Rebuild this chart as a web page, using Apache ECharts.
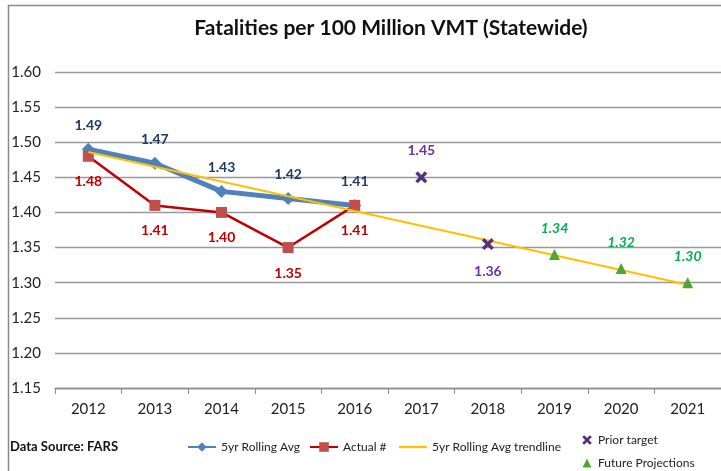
<!DOCTYPE html>
<html>
<head>
<meta charset="utf-8">
<script src="https://cdn.jsdelivr.net/npm/echarts@6/dist/echarts.min.js"></script>
<style>
  html, body { margin: 0; padding: 0; background: #fff; }
  #chart { width: 721px; height: 471px; }
</style>
</head>
<body>
<div id="chart"></div>
<script>
// chart values
var years = ["2012", "2013", "2014", "2015", "2016", "2017", "2018", "2019", "2020", "2021"];
var rollingAvg = [1.49, 1.47, 1.43, 1.42, 1.41, null, null, null, null, null];
var actual = [1.48, 1.41, 1.40, 1.35, 1.41, null, null, null, null, null];
var trendline = [1.486, null, null, null, null, null, null, null, null, 1.297];
var priorTarget = [null, null, null, null, null, 1.45, 1.355, null, null, null];
var priorLabels = ["", "", "", "", "", "1.45", "1.36", "", "", ""];
var priorLabelPos = ["", "", "", "", "", "top", "bottom", "", "", ""];
var projections = [null, null, null, null, null, null, null, 1.34, 1.32, 1.30];

var FONT = "Lato";
var X_PATH = "path://M2,0 L5,3 L8,0 L10,2 L7,5 L10,8 L8,10 L5,7 L2,10 L0,8 L3,5 L0,2 Z";
var LINE_ICON = "path://M0,0 L30,0 L30,2.5 L0,2.5 Z";

var chart = echarts.init(document.getElementById("chart"));

function legendAt(name, left, top, extra) {
    var lg = {
        data: [name],
        left: left, top: top,
        itemWidth: 28, itemHeight: 12,
        padding: 0,
        textStyle: { fontFamily: FONT, fontSize: 12, color: "#222" }
    };
    for (var k in extra) lg[k] = extra[k];
    return lg;
}

var priorData = priorTarget.map(function (v, i) {
    return { value: v, label: { position: priorLabelPos[i] || "top" } };
});

var option = {
    backgroundColor: "#fff",
    animation: false,
    textStyle: { fontFamily: FONT },
    title: {
        text: "Fatalities per 100 Million VMT (Statewide)",
        left: 386,
        top: 13,
        textAlign: "center",
        textStyle: { fontFamily: FONT, fontSize: 21, fontWeight: "bold", color: "#111" }
    },
    graphic: [
        // outer chart border (only left and top edges fall inside the picture)
        { type: "rect", left: 6, top: 3, shape: { width: 760, height: 520 },
          style: { fill: null, stroke: "#8a8a8a", lineWidth: 1.5 }, silent: true },
        { type: "text", left: 10, top: 440,
          style: { text: "Data Source: FARS", font: "bold 13px " + FONT, fill: "#111" } }
    ],
    legend: [
        legendAt("5yr Rolling Avg", 187, 441),
        legendAt("Actual #", 309, 441),
        legendAt("5yr Rolling Avg trendline", 399, 441, { data: [{ name: "5yr Rolling Avg trendline", icon: LINE_ICON }], itemHeight: 2.5 }),
        legendAt("Prior target", 581, 434, { itemWidth: 12, itemHeight: 12, itemGap: 6 }),
        legendAt("Future Projections", 581, 457, { itemWidth: 12, itemHeight: 11, itemGap: 4 })
    ],
    grid: { left: 55, right: 0, top: 72, bottom: 83, containLabel: false },
    xAxis: {
        type: "category",
        data: years,
        boundaryGap: true,
        axisLine: { lineStyle: { color: "#8c8c8c", width: 1.3 } },
        axisTick: { show: true, length: 6, lineStyle: { color: "#8c8c8c" } },
        axisLabel: { fontFamily: FONT, fontSize: 15, color: "#222", margin: 14 }
    },
    yAxis: {
        type: "value",
        min: 1.15, max: 1.60, interval: 0.05,
        axisLine: { show: false },
        axisTick: { show: false },
        splitLine: { lineStyle: { color: "#999", width: 1.3 } },
        axisLabel: {
            fontFamily: FONT, fontSize: 15, color: "#222", margin: 14,
            formatter: function (v) { return v.toFixed(2); }
        }
    },
    series: [
        {
            name: "5yr Rolling Avg",
            type: "line",
            data: rollingAvg,
            symbol: "diamond", symbolSize: 13,
            lineStyle: { color: "#4F81BD", width: 5 },
            itemStyle: { color: "#4F81BD" },
            label: {
                show: true, position: "top", distance: 10,
                formatter: function (p) { return p.value.toFixed(2); },
                fontFamily: FONT, fontSize: 14, fontWeight: "bold", color: "#1F3B63"
            },
            z: 2
        },
        {
            name: "Actual #",
            type: "line",
            data: actual,
            symbol: "rect", symbolSize: 11,
            lineStyle: { color: "#C00000", width: 2.5 },
            itemStyle: { color: "#C0504D" },
            label: {
                show: true, position: "bottom", distance: 13,
                formatter: function (p) { return p.value.toFixed(2); },
                fontFamily: FONT, fontSize: 14, fontWeight: "bold", color: "#C00000"
            },
            z: 3
        },
        {
            name: "5yr Rolling Avg trendline",
            type: "line",
            data: trendline,
            connectNulls: true,
            showSymbol: false, symbol: "none",
            lineStyle: { color: "#FFC000", width: 2 },
            itemStyle: { color: "#FFC000" },
            z: 4
        },
        {
            name: "Prior target",
            type: "line",
            data: priorData,
            symbol: X_PATH, symbolSize: 12,
            lineStyle: { width: 0, opacity: 0 },
            itemStyle: { color: "#55307F" },
            label: {
                show: true, distance: 14,
                formatter: function (p) { return priorLabels[p.dataIndex]; },
                fontFamily: FONT, fontSize: 14, fontWeight: "bold", color: "#7030A0"
            },
            z: 5
        },
        {
            name: "Future Projections",
            type: "line",
            data: projections,
            symbol: "triangle", symbolSize: 11,
            lineStyle: { width: 0, opacity: 0 },
            itemStyle: { color: "#4EA72E" },
            label: {
                show: true, position: "top", distance: 14,
                formatter: function (p) { return p.value.toFixed(2); },
                fontFamily: FONT, fontSize: 14, fontWeight: "bold", fontStyle: "italic", color: "#00B050"
            },
            z: 5
        }
    ]
};

chart.setOption(option);
</script>
</body>
</html>
